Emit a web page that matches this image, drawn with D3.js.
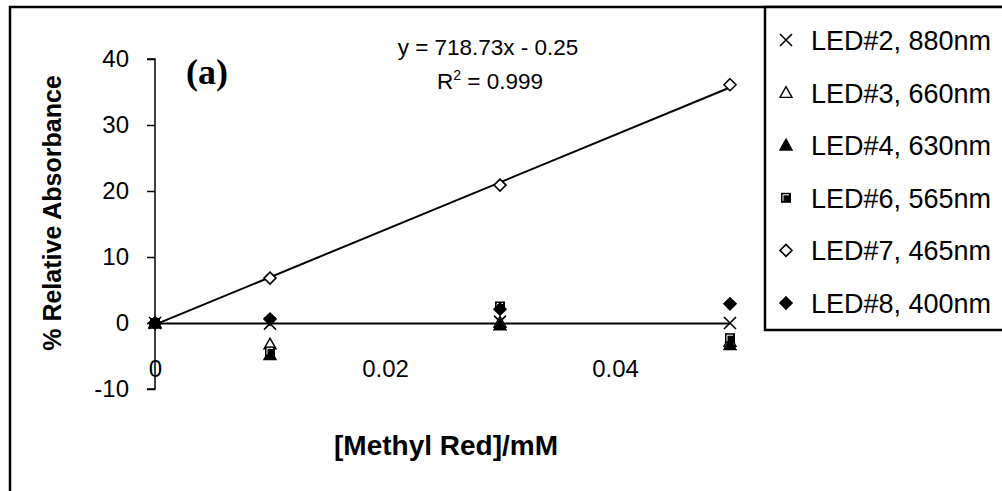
<!DOCTYPE html>
<html>
<head>
<meta charset="utf-8">
<script src="https://cdn.jsdelivr.net/npm/d3@7"></script>
<style>
  body { margin: 0; background: #fff; }
  svg { display: block; font-family: Arial, "Liberation Sans", sans-serif; }
</style>
</head>
<body>
<svg id="chart" width="1002" height="491"></svg>
<script>
// concentrations of methyl red (mM)
const concentrations = [0, 0.01, 0.03, 0.05];

// % relative absorbance read for each LED
const led2 = [0, -0.1, 0.2, 0.0];
const led3 = [0, -3.2, 0.1, -2.8];
const led4 = [0, -4.8, -0.3, -3.3];
const led6 = [0, -4.3, 2.5, -2.3];
const led7 = [0, 6.8, 20.9, 36.1];
const led8 = [0, 0.6, 2.1, 2.9];

const seriesNames = ["LED#2, 880nm", "LED#3, 660nm", "LED#4, 630nm", "LED#6, 565nm", "LED#7, 465nm", "LED#8, 400nm"];
const seriesMarkers = ["times", "triangleOpen", "triangle", "square", "diamondOpen", "diamond"];
const seriesValues = [led2, led3, led4, led6, led7, led8];

const xTicks = [0, 0.02, 0.04];
const yTicks = [-10, 0, 10, 20, 30, 40];

// linear fit for LED#7
const fitSlope = 718.73;
const fitIntercept = -0.25;

const svg = d3.select("#chart");

// outer frame
svg.append("rect")
   .attr("x", 10).attr("y", 7)
   .attr("width", 1200).attr("height", 700)
   .attr("fill", "none").attr("stroke", "#000").attr("stroke-width", 2.5);

const x = d3.scaleLinear().domain([0, 0.05]).range([155, 730]);
const y = d3.scaleLinear().domain([-10, 40]).range([389, 59]);

// y axis
svg.append("g")
   .attr("transform", "translate(155,0)")
   .call(d3.axisLeft(y).tickValues(yTicks).tickSize(8).tickPadding(18).tickFormat(d => String(d)))
   .call(g => g.selectAll("path, line").attr("stroke", "#000").attr("stroke-width", 1.5))
   .call(g => g.select(".domain").attr("d", "M-8," + y(40) + "H0V" + y(-10) + "H-8"))
   .call(g => g.selectAll("text").attr("font-size", 24).attr("fill", "#000")
     .attr("font-family", "Arial, 'Liberation Sans', sans-serif"));

// x axis crossing at y = 0
svg.append("g")
   .attr("transform", "translate(0," + y(0) + ")")
   .call(d3.axisBottom(x).tickValues(xTicks).tickSize(0).tickPadding(37)
     .tickFormat(d => d === 0 ? "0" : d3.format(".2f")(d)))
   .call(g => g.select(".domain").attr("stroke", "#000").attr("stroke-width", 2))
   .call(g => g.selectAll("text").attr("font-size", 24).attr("fill", "#000")
     .attr("font-family", "Arial, 'Liberation Sans', sans-serif"));

// trend line
svg.append("line")
   .attr("x1", x(0)).attr("y1", y(fitIntercept))
   .attr("x2", x(0.05)).attr("y2", y(fitSlope * 0.05 + fitIntercept))
   .attr("stroke", "#000").attr("stroke-width", 2);

function drawMarker(g, kind, cx, cy) {
  const s = 6;
  if (kind === "times") {
    g.append("path")
     .attr("d", `M${cx - s},${cy - s}L${cx + s},${cy + s}M${cx - s},${cy + s}L${cx + s},${cy - s}`)
     .attr("stroke", "#000").attr("stroke-width", 1.6).attr("fill", "none");
  } else if (kind === "triangle" || kind === "triangleOpen") {
    g.append("path")
     .attr("d", `M${cx},${cy - s}L${cx + s},${cy + s * 0.8}L${cx - s},${cy + s * 0.8}Z`)
     .attr("stroke", "#000").attr("stroke-width", 1.4)
     .attr("fill", kind === "triangle" ? "#000" : "#fff");
  } else if (kind === "square") {
    g.append("rect")
     .attr("x", cx - s + 1).attr("y", cy - s + 1).attr("width", 2 * s - 2).attr("height", 2 * s - 2)
     .attr("fill", "#000");
    g.append("path")
     .attr("d", `M${cx - s + 3},${cy + s - 3}V${cy - s + 3}H${cx + s - 3}`)
     .attr("stroke", "#fff").attr("stroke-width", 1).attr("fill", "none");
  } else if (kind === "diamond" || kind === "diamondOpen") {
    g.append("path")
     .attr("d", `M${cx},${cy - s}L${cx + s},${cy}L${cx},${cy + s}L${cx - s},${cy}Z`)
     .attr("stroke", "#000").attr("stroke-width", 1.6)
     .attr("fill", kind === "diamond" ? "#000" : "#fff");
  }
}

// data points
const pts = svg.append("g");
seriesValues.forEach((vals, i) => {
  vals.forEach((v, j) => drawMarker(pts, seriesMarkers[i], x(concentrations[j]), y(v)));
});

// axis titles
svg.append("text")
   .attr("transform", "translate(61,213) rotate(-90)")
   .attr("text-anchor", "middle")
   .attr("font-size", 25).attr("font-weight", "bold")
   .text("% Relative Absorbance");

svg.append("text")
   .attr("x", 446).attr("y", 455)
   .attr("text-anchor", "middle")
   .attr("font-size", 28).attr("font-weight", "bold")
   .text("[Methyl Red]/mM");

// panel label
svg.append("text")
   .attr("x", 186).attr("y", 84)
   .attr("font-family", "'Times New Roman', 'Liberation Serif', serif")
   .attr("font-size", 36).attr("font-weight", "bold")
   .text("(a)");

// fit equation
svg.append("text")
   .attr("x", 488).attr("y", 55)
   .attr("text-anchor", "middle")
   .attr("font-size", 22.5)
   .text("y = 718.73x - 0.25");

const r2 = svg.append("text")
   .attr("x", 490).attr("y", 89)
   .attr("text-anchor", "middle")
   .attr("font-size", 22.5);
r2.append("tspan").text("R");
r2.append("tspan").attr("font-size", 14).attr("dy", -9).text("2");
r2.append("tspan").attr("dy", 9).text(" = 0.999");

// legend
const legend = svg.append("g");
legend.append("rect")
   .attr("x", 765).attr("y", 7)
   .attr("width", 400).attr("height", 323)
   .attr("fill", "#fff").attr("stroke", "#000").attr("stroke-width", 2.5);

seriesNames.forEach((name, i) => {
  const ly = 40 + i * 52.6;
  drawMarker(legend, seriesMarkers[i], 786, ly);
  legend.append("text")
     .attr("x", 811).attr("y", ly + 10)
     .attr("font-size", 27)
     .text(name);
});
</script>
</body>
</html>
